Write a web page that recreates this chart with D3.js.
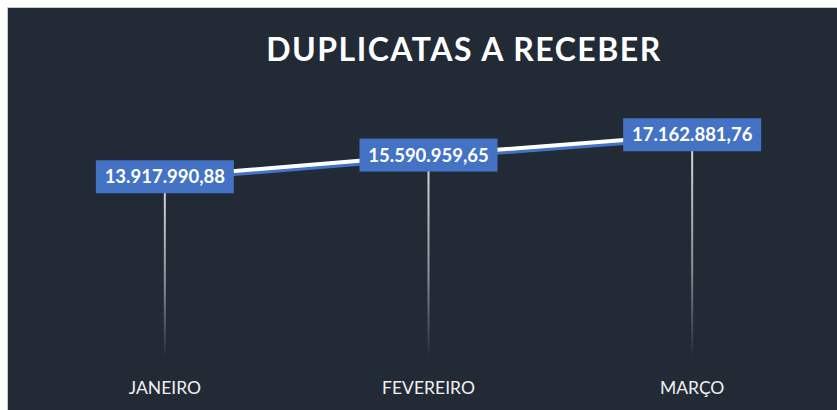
<!DOCTYPE html>
<html>
<head>
<meta charset="utf-8">
<title>Duplicatas a receber</title>
<style>
  body { margin: 0; background: #fff; }
  svg { display: block; }
</style>
</head>
<body>
<script src="https://cdn.jsdelivr.net/npm/d3@7"></script>
<script>
    var width = 837;
    var height = 410;

    var categories = ["JANEIRO", "FEVEREIRO", "MARÇO"];
    var values = [13917990.88, 15590959.65, 17162881.76];
    var title = "DUPLICATAS A RECEBER";

    var br = d3.formatLocale({decimal: ",", thousands: ".", grouping: [3], currency: ["R$", ""]});
    var fmt = br.format(",.2f");

    var svg = d3.select('body')
            .append('svg')
            .attr('width', width)
            .attr('height', height);

    // fundo escuro
    svg.append('rect')
            .attr('x', 7.5).attr('y', 7.5)
            .attr('width', width).attr('height', height)
            .attr('fill', '#222a35')
            .attr('stroke', '#c8c8c8')
            .attr('stroke-width', 1);

    svg.append('text')
            .attr('x', 464).attr('y', 61)
            .attr('text-anchor', 'middle')
            .attr('font-family', 'Lato, sans-serif')
            .attr('font-weight', 'bold')
            .attr('font-size', 32)
            .attr('letter-spacing', 1.5)
            .attr('fill', '#fff')
            .text(title);

    var x = d3.scaleBand()
            .domain(categories)
            .range([33, 824]);
    var y = d3.scaleLinear()
            .domain([0, 20000000])
            .range([357, 98]);

    var cx = function (d, i) { return x(categories[i]) + x.bandwidth() / 2; };

    // linhas de queda com degradê
    var defs = svg.append('defs');
    values.forEach(function (d, i) {
        var g = defs.append('linearGradient')
                .attr('id', 'drop' + i)
                .attr('gradientUnits', 'userSpaceOnUse')
                .attr('x1', 0).attr('x2', 0)
                .attr('y1', y(d)).attr('y2', y(0));
        g.append('stop').attr('offset', '0%').attr('stop-color', '#e0e0e4');
        g.append('stop').attr('offset', '60%').attr('stop-color', '#8a8e96');
        g.append('stop').attr('offset', '100%').attr('stop-color', '#222a35');
    });
    svg.selectAll('line.drop')
            .data(values)
            .enter()
            .append('line')
            .attr('class', 'drop')
            .attr('x1', cx).attr('x2', cx)
            .attr('y1', function (d) { return y(d); })
            .attr('y2', y(0))
            .attr('stroke', function (d, i) { return 'url(#drop' + i + ')'; })
            .attr('stroke-width', 2);

    var line = d3.line()
            .x(function (d, i) { return cx(d, i); })
            .y(function (d) { return y(d); });

    // sombra azul + linha branca
    svg.append('path')
            .datum(values)
            .attr('d', line)
            .attr('transform', 'translate(0,3)')
            .attr('fill', 'none')
            .attr('stroke', '#4472c4')
            .attr('stroke-width', 4);
    svg.append('path')
            .datum(values)
            .attr('d', line)
            .attr('fill', 'none')
            .attr('stroke', '#ffffff')
            .attr('stroke-width', 4);

    var boxW = 138, boxH = 33;
    var lab = svg.selectAll('g.lab')
            .data(values)
            .enter()
            .append('g')
            .attr('class', 'lab')
            .attr('transform', function (d, i) {
                return 'translate(' + cx(d, i) + ',' + y(d) + ')';
            });
    lab.append('rect')
            .attr('x', -boxW / 2).attr('y', -boxH / 2)
            .attr('width', boxW).attr('height', boxH)
            .attr('fill', '#4472c4');
    lab.append('text')
            .attr('text-anchor', 'middle')
            .attr('dy', 6.5)
            .attr('font-family', 'Lato, sans-serif')
            .attr('font-weight', 'bold')
            .attr('font-size', 18.5)
            .attr('fill', '#fff')
            .text(function (d) { return fmt(d); });

    var axis = svg.append('g')
            .attr('transform', 'translate(0,394)')
            .call(d3.axisBottom(x).tickSize(0).tickPadding(0));
    axis.select('.domain').remove();
    axis.selectAll('text')
            .attr('dy', 0)
            .attr('font-family', 'Lato, sans-serif')
            .attr('font-size', 17.5)
            .attr('fill', '#f0f0f0');
</script>
</body>
</html>
